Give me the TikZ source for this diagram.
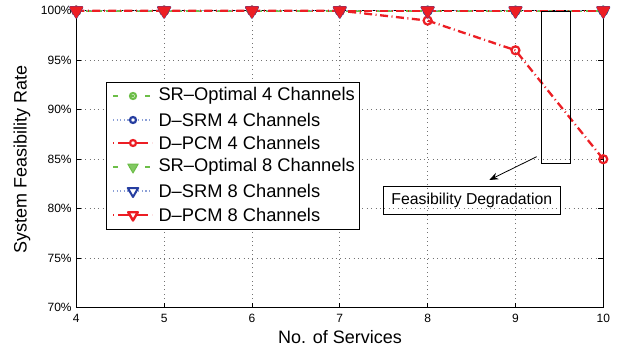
\documentclass[tikz,border=0pt]{standalone}
\usepackage{fontspec}
\setmainfont{Liberation Sans}
\usetikzlibrary{arrows.meta,shapes.geometric}
\definecolor{mgreen}{RGB}{108,190,72}
\definecolor{mblue}{RGB}{38,62,160}
\definecolor{mblueline}{RGB}{140,160,215}
\definecolor{mred}{RGB}{236,30,36}
\tikzset{
  gridline/.style={black!55, line width=0.6pt, dash pattern=on 0.8pt off 3.6pt},
  axisline/.style={black, line width=1.3pt},
  greenline/.style={mgreen, line width=1.8pt, dash pattern=on 5pt off 11pt},
  greenplot/.style={mgreen, line width=1.8pt, dash pattern=on 6pt off 4pt},
  blueline/.style={mblueline, line width=1.5pt, dash pattern=on 1.2pt off 2.4pt},
  redline/.style={mred, line width=2.3pt, dash pattern=on 8pt off 3.5pt on 1pt off 3.5pt},
  circmark/.style={circle, draw=#1, line width=2.2pt, minimum size=8pt, inner sep=0pt},
  lcircmark/.style={circle, draw=#1, line width=2.2pt, minimum size=6pt, inner sep=0pt},
  trimark/.style={regular polygon, regular polygon sides=3, shape border rotate=180,
     minimum size=13pt, inner sep=0pt, line join=round},
  gtri/.style={trimark, fill=mgreen!85, draw=mgreen, line width=1pt},
  btri/.style={trimark, fill=white, draw=mblue, line width=2pt},
  rtri/.style={trimark, fill=mred, draw=mred, line width=1.4pt},
  ticklab/.style={font=\fontsize{12}{14}\selectfont, inner sep=0pt},
  leglab/.style={font=\fontsize{18.3}{20}\selectfont, inner sep=0pt, anchor=west},
  axlab/.style={font=\fontsize{18}{20}\selectfont, inner sep=0pt},
}
\begin{document}
\begin{tikzpicture}[x=1pt,y=-1pt]
\useasboundingbox (0,0) rectangle (618,350);
\begin{scope}[x=87.83pt,y=9.9pt,shift={(-275.02pt,-1000.7pt)}]
  % grid
  \foreach \i in {5,...,9} \draw[gridline] (\i,70) -- (\i,100);
  \foreach \v in {75,80,...,95} \draw[gridline] (4,\v) -- (10,\v);
  % ticks
  \foreach \i in {5,...,9} {
    \draw[black, line width=0.8pt] (\i,70) -- ++(0,5pt);
  }
  \foreach \v in {75,80,...,95} {
    \draw[black, line width=0.8pt] (4,\v) -- ++(5pt,0);
    \draw[black, line width=0.8pt] (10,\v) -- ++(-5pt,0);
  }
  % axes box
  \draw[axisline] (4,70) rectangle (10,100);
  % tick labels
  \foreach \i in {4,...,10} \node[ticklab] (xt\i) at (\i,70) [yshift=-10.6pt] {\i};
  \foreach \v in {70,75,...,100} \node[ticklab, anchor=east] (yt\v) at (4,\v) [xshift=-4.5pt] {\v\%};
  % data lines
  \draw[greenplot] (4,100) -- (10,100);
  \draw[blueline] (4,100) -- (10,100);
  \draw[redline] (4,100) -- (5,100) -- (6,100) -- (7,100) -- (8,99) -- (9,96) -- (10,85);
  \draw[greenplot] (4,100) -- (10,100);
  \draw[blueline] (4,100) -- (10,100);
  \draw[redline] (4,100) -- (10,100);
  % markers
  \foreach \i in {4,...,10} \node[circmark=mgreen] (gc\i) at (\i,100) {};
  \foreach \i in {4,...,10} \node[circmark=mblue] (bc\i) at (\i,100) {};
  \foreach \i/\v in {4/100,5/100,6/100,7/100,8/99,9/96,10/85} \node[circmark=mred] (rc\i) at (\i,\v) {};
  \foreach \i in {4,...,10} \node[gtri] (gt\i) at (\i,100) {};
  \foreach \i in {4,...,10} \node[btri, minimum size=14pt] (bt\i) at (\i,100) {};
  \foreach \i in {4,...,10} \node[rtri, minimum size=14pt] (rt\i) at (\i,100) {};
  % degradation box
  \node[draw, line width=0.8pt, anchor=south west, minimum width=29pt, minimum height=151.5pt, inner sep=0pt] (degbox) at (9.296,84.55) {};
\end{scope}
% axis labels
\node[axlab] (xlab) at (340,337) {No. of Services};
\node[axlab, rotate=90] (ylab) at (22,159) {System Feasibility Rate};
% annotation
\node[draw, line width=0.8pt, minimum width=177pt, minimum height=28pt, inner sep=0pt,
  font=\fontsize{15.8}{18}\selectfont] (fd) at (471.8,200.3) {Feasibility Degradation};
\coordinate (arstart) at (536.7,156.7);
\coordinate (arend) at (489.3,180);
\draw[line width=0.8pt, -{Stealth[length=9pt,width=7pt,inset=3pt]}] (arstart) -- (arend);
% legend
\node[draw, fill=white, line width=1pt, anchor=north west, minimum width=253.6pt, minimum height=147pt, inner sep=0pt] (legend) at (105.7,82.3) {};
\foreach \k/\y in {1/96, 2/120, 3/143, 4/167, 5/191, 6/215} \coordinate (ls\k) at (113,\y);
\foreach \k/\y in {1/96, 2/120, 3/143, 4/167, 5/191, 6/215} \coordinate (le\k) at (152,\y);
\foreach \k/\y in {1/96, 2/120, 3/143, 4/167, 5/191, 6/215} \coordinate (lm\k) at (133,\y);
\draw[greenline] (ls1) -- (le1);
\node[lcircmark=mgreen] (lg1) at (lm1) {};
\draw[blueline] (ls2) -- (le2);
\node[lcircmark=mblue, fill=white] (lg2) at (lm2) {};
\draw[redline, dash pattern=on 1pt off 4pt on 30pt off 4pt] (ls3) -- (le3);
\node[lcircmark=mred, fill=white] (lg3) at (lm3) {};
\draw[greenline] (ls4) -- (le4);
\node[gtri, minimum size=12pt] (lg4) at (lm4) {};
\draw[blueline] (ls5) -- (le5);
\node[btri, minimum size=12pt, line width=2pt] (lg5) at (lm5) {};
\draw[redline, dash pattern=on 1pt off 4pt on 30pt off 4pt] (ls6) -- (le6);
\node[trimark, fill=white, draw=mred, line width=2.4pt, minimum size=11pt] (lg6) at (lm6) {};
\node[leglab] (lt1) at (158.3,96) {SR–Optimal 4 Channels};
\node[leglab] (lt2) at (158.3,120) {D–SRM 4 Channels};
\node[leglab] (lt3) at (158.3,143) {D–PCM 4 Channels};
\node[leglab] (lt4) at (158.3,167) {SR–Optimal 8 Channels};
\node[leglab] (lt5) at (158.3,191) {D–SRM 8 Channels};
\node[leglab] (lt6) at (158.3,215) {D–PCM 8 Channels};
\end{tikzpicture}
\end{document}
